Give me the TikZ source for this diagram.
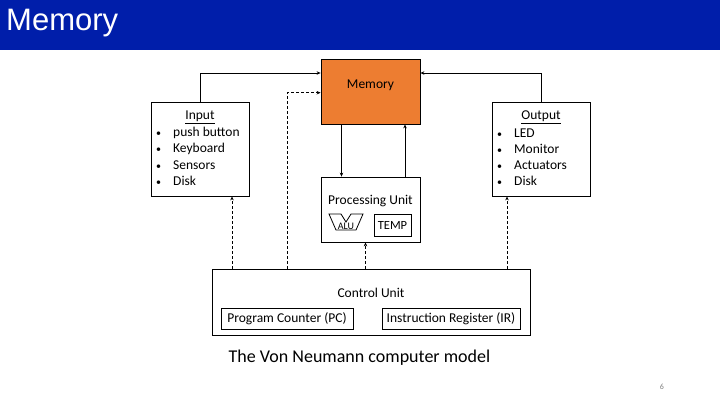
\documentclass[tikz,border=0pt]{standalone}
\usepackage{fontspec}
\setmainfont{Carlito}
\newfontfamily\headfont{Liberation Sans}
\usepackage{xcolor}
\usetikzlibrary{arrows.meta, calc, positioning}
\definecolor{slideblue}{RGB}{0,30,170}
\definecolor{memorange}{RGB}{237,125,49}

\begin{document}
\begin{tikzpicture}[x=1pt, y=-1pt,
            every node/.style={font=\fontsize{13.5}{16}\selectfont},
            block/.style={rectangle, draw, line width=0.8pt, inner sep=0pt},
            mem-block/.style={block, fill=memorange, minimum width=99pt, minimum height=65pt},
            io-block/.style={block, minimum width=98pt, minimum height=94pt},
            unit-block/.style={block, minimum width=99pt, minimum height=65pt},
            reg/.style={block, minimum height=21pt},
            item/.style={anchor=west, inner sep=0pt},
            arrow/.style={line width=0.8pt, ->, >={Stealth[length=4pt, width=3.5pt]}},
            ctrl/.style={arrow, dash pattern=on 3pt off 2pt}
        ]
        \useasboundingbox (0,0) rectangle (720,405);

        % Title bar
        \fill[slideblue] (0,0) rectangle (720,50);
        \node[anchor=base west, inner sep=0pt, text=white, font=\headfont\fontsize{31}{36}\selectfont] (title) at (6,30) {Memory};

        % Memory block
        \node[mem-block] (memory) at (370.5,91.5) {};
        \node (memlabel) at (370.5,85) {Memory};

        % Input block
        \node[io-block] (input) at (200,149) {};
        \node (inhead) at (200,117) {\underline{Input}};
        \foreach \t [count=\i] in {push button, Keyboard, Sensors, Disk}
            \node[item] (in\i) at (156,117+16*\i) {\makebox[17pt][l]{\fontsize{10}{12}\selectfont\textbullet}\t};

        % Output block
        \node[io-block] (output) at (541,149) {};
        \node (outhead) at (541,117) {\underline{Output}};
        \foreach \t [count=\i] in {LED, Monitor, Actuators, Disk}
            \node[item] (out\i) at (497,117+16*\i) {\makebox[17pt][l]{\fontsize{10}{12}\selectfont\textbullet}\t};

        % Processing unit
        \node[unit-block] (pu) at (370.5,209.5) {};
        \node (pulabel) at (370.5,201) {Processing Unit};
        \draw[line width=0.8pt] (329,214) -- (341,214) -- (346,222) -- (351,214) -- (363,214) -- (356,230) -- (336,230) -- cycle;
        \node[inner sep=0pt, font=\fontsize{10}{12}\selectfont] (alu) at (346,226) {ALU};
        \node[block, minimum width=37pt, minimum height=22pt, font=\fontsize{12.5}{14}\selectfont] (temp) at (392.5,225) {TEMP};

        % Control unit
        \node[block, minimum width=318pt, minimum height=66pt] (cu) at (371,302) {};
        \node (culabel) at (371,293) {Control Unit};
        \node[reg, minimum width=132pt] (pc) at (287,318.5) {Program Counter (PC)};
        \node[reg, minimum width=138pt] (ir) at (451,318.5) {Instruction Register (IR)};

        % Caption
        \node[font=\fontsize{18}{22}\selectfont] (caption) at (359.5,358) {The Von Neumann computer model};
        \node[text=gray, font=\fontsize{8}{10}\selectfont] (pagenum) at (662,387) {6};

        % Arrows
        \draw[arrow] (input.north) |- ([yshift=18.5pt]memory.west);
        \draw[arrow] (output.north) |- ([yshift=18.5pt]memory.east);
        \draw[ctrl] (pc.center |- cu.north) |- ([yshift=-1.2pt]memory.west);
        \draw[arrow] ([xshift=-29pt]memory.south) -- ([xshift=-29pt]pu.north);
        \draw[arrow] ([xshift=34.5pt]pu.north) -- ([xshift=34.5pt]memory.south);

        % Control lines
        \coordinate (inctrl) at ([xshift=32pt]input.south);
        \coordinate (puctrl) at ([xshift=-5pt]pu.south);
        \coordinate (outctrl) at ([xshift=-34pt]output.south);
        \draw[ctrl] (inctrl |- cu.north) -- (inctrl);
        \draw[ctrl] (puctrl |- cu.north) -- (puctrl);
        \draw[ctrl] (outctrl |- cu.north) -- (outctrl);

    \end{tikzpicture}
\end{document}
